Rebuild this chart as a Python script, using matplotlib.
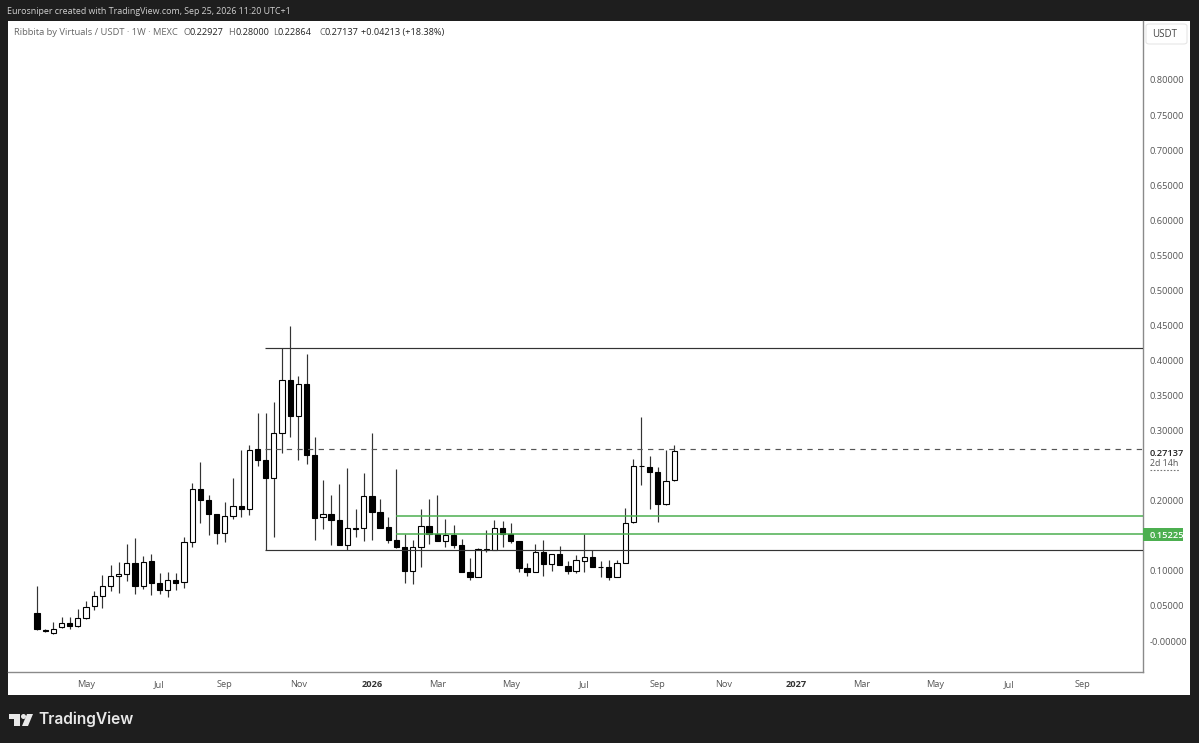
#!/usr/bin/env python3
"""Ribbita / USDT weekly candles, TradingView snapshot look."""
import matplotlib
matplotlib.use("Agg")
import matplotlib.pyplot as plt
from matplotlib.patches import Polygon, Rectangle, Circle, FancyBboxPatch

W, H = 1199, 743
plt.rcParams["font.family"] = ["Open Sans", "DejaVu Sans"]

# weekly candles
opens = [.0404, .0157, .0109, .0195, .0257, .0214, .0323, .0494, .0637, .0780,
         .0922, .0951, .1117, .0780, .1136, .0827, .0723, .0870, .0837, .1417,
         .2163, .2006, .1806, .1540, .1783, .1920, .1887, .2733, .2586, .2329,
         .2961, .3722, .3209, .3660, .2652, .1764, .1806, .1725, .1369, .1602,
         .1607, .2063, .1840, .1621, .1440, .1336, .1003, .1336, .1640, .1531,
         .1421, .1512, .1369, .0984, .0913, .1298, .1302, .1607, .1526, .1426,
         .1036, .0989, .1269, .1103, .1236, .1074, .0998, .1146, .1193, .1060,
         .1051, .0913, .1112, .1692, .2491, .2486, .2410, .1958, .22927]
highs = [.0784, .0166, .0271, .0337, .0347, .0452, .0566, .0708, .0936, .1079,
         .1122, .1383, .1464, .1207, .1241, .0974, .0984, .0965, .1478, .2253,
         .2553, .2077, .1806, .1977, .2324, .2724, .2790, .3256, .3256, .3403,
         .4178, .4492, .3779, .4093, .2914, .2291, .2077, .2234, .2462, .1878,
         .2391, .2971, .2020, .1768, .2453, .1526, .1440, .1887, .2030, .2077,
         .1735, .1649, .1450, .1184, .1321, .1583, .1721, .1706, .1687, .1426,
         .1108, .1383, .1440, .1236, .1355, .1136, .1222, .1531, .1298, .1136,
         .1155, .1155, .1892, .2600, .3190, .2638, .2477, .2724, .28000]
lows = [.0157, .0133, .0100, .0185, .0176, .0204, .0318, .0442, .0475, .0708,
        .0689, .0860, .0675, .0746, .0656, .0665, .0632, .0723, .0761, .1336,
        .1687, .1512, .1378, .1412, .1735, .1768, .1792, .2491, .1298, .1478,
        .2686, .2914, .2581, .2529, .1445, .1592, .1369, .1369, .1298, .1488,
        .1431, .1440, .1616, .1402, .1321, .0822, .0813, .1060, .1378, .1426,
        .1345, .1321, .0979, .0865, .0913, .1274, .1302, .1345, .1393, .0989,
        .0922, .0989, .0932, .0998, .1079, .0951, .0965, .0979, .1060, .0917,
        .0865, .0913, .1108, .1687, .2229, .1887, .1702, .1935, .22864]
closes = [.0176, .0147, .0166, .0257, .0214, .0323, .0490, .0637, .0784, .0927,
          .0951, .1108, .0780, .1127, .0822, .0727, .0870, .0832, .1417, .2163,
          .2006, .1806, .1540, .1783, .1920, .1882, .2729, .2586, .2329, .2966,
          .3722, .3209, .3660, .2652, .1749, .1806, .1725, .1369, .1607, .1611,
          .2063, .1840, .1616, .1440, .1336, .1003, .1336, .1640, .1521, .1426,
          .1507, .1369, .0979, .0913, .1307, .1307, .1607, .1521, .1426, .1036,
          .0989, .1269, .1098, .1236, .1079, .0998, .1150, .1193, .1060, .1051,
          .0917, .1117, .1683, .2496, .2500, .2405, .1958, .2277, .27137]

price_ticks = [.80, .75, .70, .65, .60, .55, .50, .45, .40, .35, .30, .20, .15, .10, .05, 0.0]
month_pos = [6, 15, 23, 32, 41, 49, 58, 67, 76, 84, 93, 101, 110, 119, 128]
month_labels = ["May", "Jul", "Sep", "Nov", "2026", "Mar", "May", "Jul", "Sep", "Nov",
                "2027", "Mar", "May", "Jul", "Sep"]

RANGE_HIGH, RANGE_LOW, LAST_LEVEL = .4178, .1298, .2738
RANGE_START = 27.9
ZONE_TOP, ZONE_BOTTOM = .1787, .15225
ZONE_START = 43.9

DARK = "#1e1e1e"
GREEN = "#4caf50"
GREY = "#8a8a8a"


def bx(x, y, w, h):
    """pixel box (top-left origin) -> figure coordinates"""
    return x / W, 1 - (y + h) / H, w / W, h / H


fig = plt.figure(figsize=(W / 100, H / 100), dpi=100, facecolor=DARK)

# white card behind chart + both axes
x0, y0, w0, h0 = bx(8, 21, 1182, 674)
fig.add_artist(Rectangle((x0, y0), w0, h0, transform=fig.transFigure, fc="white", ec="none", zorder=-1))

ax = fig.add_axes(bx(8, 21, 1135, 651), facecolor="white")
ax.set_xlim(-3.55, 135.4)
ax.set_ylim(-.0442, .8841)
for s in ("top", "left"):
    ax.spines[s].set_visible(False)
for s in ("right", "bottom"):
    ax.spines[s].set_color(GREY)
    ax.spines[s].set_linewidth(1.0)

# candles
xs = list(range(len(opens)))
ax.vlines(xs, lows, highs, color="#333333", lw=.85, zorder=2)
for i in xs:
    o, c = opens[i], closes[i]
    up = c >= o
    ax.bar(i, abs(c - o), bottom=min(o, c), width=.64, color="white" if up else "black",
           edgecolor="black", linewidth=.8, zorder=3)

# levels
xr = ax.get_xlim()[1]
ax.hlines([RANGE_HIGH, RANGE_LOW], RANGE_START, xr, color="#333333", lw=.85, zorder=4)
ax.hlines(LAST_LEVEL, RANGE_START, xr, color="#555555", lw=.85, linestyles=(0, (4.5, 4.5)), zorder=4)
ax.hlines([ZONE_TOP, ZONE_BOTTOM], ZONE_START, xr, color=GREEN, lw=1.1, zorder=4)

# axes
ax.yaxis.tick_right()
ax.set_yticks(price_ticks)
ax.set_yticklabels([("-" if p == 0 else "") + f"{p:.5f}" for p in price_ticks],
                   fontsize=6.7, color="#555555")
ax.tick_params(axis="y", length=0, pad=5)
ax.set_xticks(month_pos)
ax.set_xticklabels(month_labels, fontsize=6.7, color="#555555")
ax.tick_params(axis="x", length=0, pad=5.5)
for lab in ax.get_xticklabels():
    if lab.get_text().startswith("20"):
        lab.set_fontweight("bold")
        lab.set_color("#333333")

# price labels on the scale
ty = ax.get_yaxis_transform()
ax.text(1.0062, .27137 - .0035, "0.27137", transform=ty, fontsize=6.7, fontweight="semibold",
        color="#222222", va="center", clip_on=False)
ax.text(1.0062, .2715 - .0185, "2d 14h", transform=ty, fontsize=6.4, color="#555555",
        va="center", clip_on=False)
ax.plot([1.0062, 1.032], [.2443, .2443], transform=ty, color="#777777", lw=.8,
        ls=(0, (1.5, 1.5)), clip_on=False)
ax.add_patch(Rectangle((1.0, ZONE_BOTTOM - .0095), .0352, .0185, transform=ty, fc=GREEN,
                       ec="none", clip_on=False, zorder=5))
ax.text(1.0062, ZONE_BOTTOM - .0015, "0.15225", transform=ty, fontsize=6.7, fontweight="semibold",
        color="white", va="center", clip_on=False, zorder=6)

# USDT button
ux, uy, uw, uh = bx(1146, 24, 41, 20)
fig.add_artist(FancyBboxPatch((ux, uy), uw, uh, boxstyle="round,pad=0,rounding_size=0.003",
                              transform=fig.transFigure, fc="white", ec="#e6e6e6", lw=.8))
fig.text(1164.5 / W, 1 - 34.5 / H, "USDT", fontsize=7, color="#444444", ha="center", va="center")

# header + legend line
fig.text(7 / W, 1 - 11 / H, "Eurosniper created with TradingView.com, Sep 25, 2026 11:20 UTC+1",
         fontsize=6.4, color="#d0d0d0", va="center")
fig.text(14 / W, 1 - 32.5 / H, "Ribbita by Virtuals / USDT · 1W · MEXC", fontsize=6.75,
         color="#666666", va="center")
legend_x = [183, 228, 273, 319, 361]
legend_tags = ["O", "H", "L", "C", ""]
legend_vals = ["0.22927", "0.28000", "0.22864", "0.27137", "+0.04213 (+18.38%)"]
for lx, tag, val in zip(legend_x, legend_tags, legend_vals):
    fig.text(lx / W, 1 - 32.5 / H, tag, fontsize=6.6, color="#666666", va="center")
    off = {"O": 7, "H": 7, "L": 5, "C": 6, "": 0}[tag]
    fig.text((lx + off) / W, 1 - 32.5 / H, val, fontsize=6.6, color="#222222", va="center")

# TradingView logo
fc = "#e8e8e8"
logo = [[(9, 714), (20, 714), (20, 726), (14, 726), (14, 719), (9, 719)],
        [(27, 714), (33, 714), (28, 726), (22, 726)]]
for pts in logo:
    fig.add_artist(Polygon([(x / W, 1 - y / H) for x, y in pts], closed=True,
                           transform=fig.transFigure, fc=fc, ec="none"))
fig.add_artist(Circle((23.5, H - 716.5), 2.5, transform=None, fc=fc, ec="none"))
fig.text(38 / W, 1 - 719.5 / H, "TradingView", fontsize=11.2, fontweight="semibold", color=fc,
         family=["Inter", "DejaVu Sans"], va="center")

fig.savefig("out.png", dpi=100, facecolor=DARK)
